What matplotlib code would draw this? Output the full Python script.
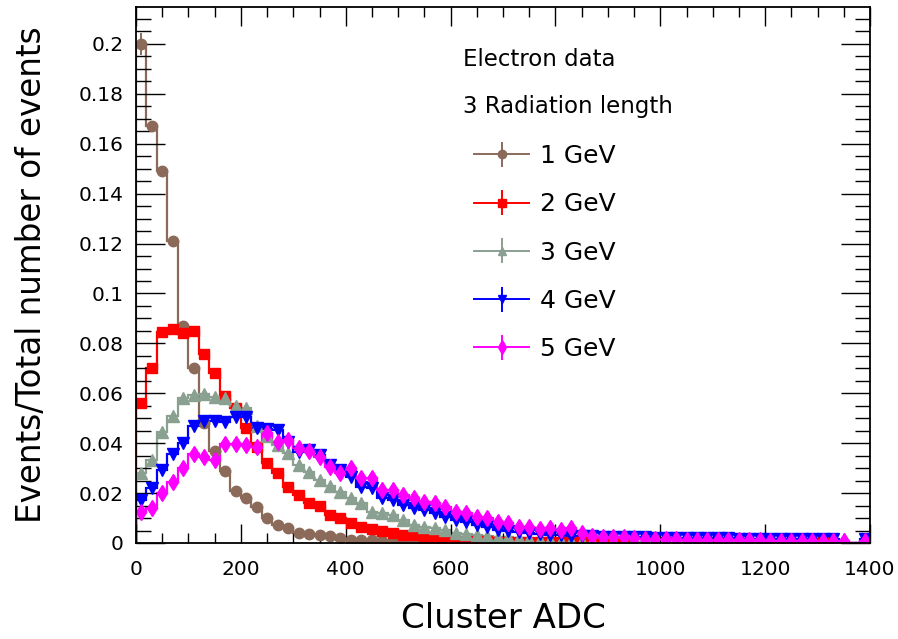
import numpy as np
import matplotlib
matplotlib.use("Agg")
import matplotlib.pyplot as plt

# ---- data (bin width 20 ADC, 0..1400) ----
bin_edges = np.arange(0, 1401, 20)

gev_1 = [0.200, 0.167, 0.149, 0.121, 0.087, 0.070, 0.048, 0.037, 0.029, 0.021,
         0.018, 0.0146, 0.0099, 0.0072, 0.0059, 0.0039, 0.0036, 0.0031, 0.0029, 0.0022,
         0.0014, 0.0012, 0.0011, 0.0010, 0.0009, 0.0008, 0.0007, 0.0006, 0, 0,
         0, 0, 0, 0, 0, 0, 0, 0, 0, 0,
         0, 0, 0, 0, 0, 0, 0, 0, 0, 0,
         0, 0, 0, 0, 0, 0, 0, 0, 0, 0,
         0, 0, 0, 0, 0, 0, 0, 0, 0, 0]

gev_2 = [0.056, 0.070, 0.0847, 0.0858, 0.084, 0.085, 0.0757, 0.068, 0.059, 0.054,
         0.046, 0.0385, 0.032, 0.028, 0.0226, 0.0192, 0.0160, 0.0150, 0.0112, 0.0100,
         0.0081, 0.0065, 0.0056, 0.0048, 0.0040, 0.0032, 0.0032, 0.0020, 0.0016, 0.0015,
         0.0010, 0.0009, 0.0008, 0.0007, 0.0006, 0.0006, 0.0005, 0.0005, 0.0004, 0.0004,
         0.0004, 0.0003, 0.0003, 0.0003, 0.0003, 0.0002, 0.0002, 0, 0, 0,
         0, 0, 0, 0, 0, 0, 0, 0, 0, 0,
         0, 0, 0, 0, 0, 0.0003, 0, 0, 0, 0]

gev_3 = [0.028, 0.0333, 0.0446, 0.0509, 0.0582, 0.0593, 0.0596, 0.0586, 0.0582, 0.055,
         0.054, 0.047, 0.043, 0.0393, 0.036, 0.0313, 0.0286, 0.0253, 0.0228, 0.0205,
         0.0179, 0.0159, 0.0125, 0.0119, 0.0112, 0.0092, 0.0072, 0.0065, 0.0059, 0.0052,
         0.0039, 0.0036, 0.0032, 0.0030, 0.0025, 0.0024, 0.0020, 0.0016, 0.0012, 0.0012,
         0.0010, 0.0009, 0.0008, 0.0008, 0.0007, 0.0007, 0.0006, 0.0006, 0.0005, 0.0005,
         0.0005, 0.0005, 0.0004, 0.0004, 0.0004, 0.0004, 0.0004, 0.0004, 0.0004, 0.0004,
         0.0004, 0.0004, 0.0003, 0.0003, 0.0003, 0.0003, 0.0003, 0, 0, 0.0003]

gev_4 = [0.0172, 0.0219, 0.0293, 0.0357, 0.0400, 0.0469, 0.0490, 0.0490, 0.0486, 0.0506,
         0.0506, 0.0460, 0.0456, 0.0453, 0.0406, 0.0366, 0.0373, 0.0353, 0.0313, 0.0293,
         0.0266, 0.0226, 0.0219, 0.0179, 0.0172, 0.0152, 0.0139, 0.0132, 0.0119, 0.0105,
         0.0092, 0.0085, 0.0072, 0.0065, 0.0052, 0.0049, 0.0045, 0.0039, 0.0036, 0.0032,
         0.0032, 0.0030, 0.0028, 0.0027, 0.0026, 0.0025, 0.0025, 0.0024, 0.0023, 0.0022,
         0.0022, 0.0021, 0.0021, 0.0020, 0.0020, 0.0019, 0.0019, 0.0018, 0.0018, 0.0018,
         0.0017, 0.0017, 0.0016, 0.0016, 0.0016, 0.0015, 0.0015, 0, 0, 0.0015]

gev_5 = [0.0126, 0.0139, 0.0199, 0.0246, 0.0299, 0.0357, 0.0346, 0.0333, 0.0397, 0.0395,
         0.0393, 0.0386, 0.0440, 0.0406, 0.0413, 0.0380, 0.0370, 0.0346, 0.0306, 0.0280,
         0.0300, 0.0260, 0.0260, 0.0212, 0.0212, 0.0192, 0.0179, 0.0166, 0.0159, 0.0146,
         0.0125, 0.0119, 0.0105, 0.0099, 0.0085, 0.0079, 0.0065, 0.0065, 0.0058, 0.0059,
         0.0052, 0.0059, 0.0039, 0.0028, 0.0023, 0.0023, 0.0023, 0.0020, 0.0015, 0.0016,
         0.0016, 0.0015, 0.0012, 0.0013, 0.0013, 0.0014, 0.0012, 0.0011, 0.0011, 0.0011,
         0.0010, 0.0010, 0.0010, 0.0010, 0.0010, 0.0009, 0.0009, 0.0009, 0, 0.0010]

# visible statistical error bars on the first 1 GeV bins
gev_1_err = [0.0045, 0.0015, 0.0014, 0.0013, 0.0010]

series_labels = ["1 GeV", "2 GeV", "3 GeV", "4 GeV", "5 GeV"]
header_lines = ["Electron data", "3 Radiation length"]
x_label = "Cluster ADC"
y_label = "Events/Total number of events"
x_ticks = [0, 200, 400, 600, 800, 1000, 1200, 1400]
y_ticks = [0, 0.02, 0.04, 0.06, 0.08, 0.1, 0.12, 0.14, 0.16, 0.18, 0.2]

# ---- styles ----
colors = ["#8b6a5a", "#ff0000", "#8aa090", "#0000ff", "#ff00ff"]
markers = ["o", "s", "^", "v", "d"]
msizes = [7.5, 7, 8, 8, 8.5]

fig = plt.figure(figsize=(8.98, 6.39), dpi=100)
ax = fig.add_axes([136 / 898, 1 - 543 / 639, 734 / 898, 536 / 639])

centers = 0.5 * (bin_edges[:-1] + bin_edges[1:])
all_series = [gev_1, gev_2, gev_3, gev_4, gev_5]
handles = []
for i, vals in enumerate(all_series):
    v = np.asarray(vals, dtype=float)
    ax.stairs(v, bin_edges, color=colors[i], lw=1.6, baseline=0)
    vm = np.where(v > 0, v, np.nan)
    yerr = np.zeros_like(v)
    if i == 0:
        yerr[:len(gev_1_err)] = gev_1_err
    ax.errorbar(centers, vm, yerr=yerr, fmt=markers[i], color=colors[i],
                ms=msizes[i], mec=colors[i], elinewidth=1.4, capsize=0, ls="none")
    h = ax.errorbar([], [], yerr=[], fmt="-" + markers[i], color=colors[i],
                    ms=msizes[i] * 0.8, lw=1.4, elinewidth=1.4, capsize=0)
    handles.append(h)

ax.set_xlim(0, 1400)
ax.set_ylim(0, 0.2148)
ax.set_xticks(x_ticks)
ax.set_xticks(np.arange(0, 1401, 50), minor=True)
ax.set_yticks(y_ticks)
ax.set_yticks(np.arange(0, 0.2146, 0.005), minor=True)
ax.set_yticklabels([f"{t:g}" for t in y_ticks])
ax.set_xticklabels([str(t) for t in x_ticks])

ax.tick_params(axis="both", which="both", direction="in", top=True, right=True,
               colors="black", labelsize=14.5)
ax.tick_params(axis="y", which="major", length=21, width=1.0, pad=9)
ax.tick_params(axis="y", which="minor", length=11, width=1.0)
ax.tick_params(axis="x", which="major", length=14, width=1.0, pad=12)
ax.tick_params(axis="x", which="minor", length=7.5, width=1.0)
for s in ax.spines.values():
    s.set_linewidth(1.3)

ax.set_xlabel(x_label, fontsize=24.5)
ax.xaxis.set_label_coords(0.5, -0.11)
ax.set_ylabel(y_label, fontsize=23.5)
ax.yaxis.set_label_coords(-0.12, 0.5)

ax.text((463 - 136) / 734, (543 - 59) / 536, header_lines[0], transform=ax.transAxes,
        fontsize=16.5, ha="left", va="center")
ax.text((463 - 136) / 734, (543 - 106) / 536, header_lines[1], transform=ax.transAxes,
        fontsize=16.5, ha="left", va="center")

leg = ax.legend(handles, series_labels, loc="upper left",
                bbox_to_anchor=((474 - 136) / 734, (543 - 144) / 536),
                frameon=False, fontsize=18, borderpad=0, borderaxespad=0,
                labelspacing=0.97, handlelength=2.2, handletextpad=0.45,
                numpoints=1)

fig.savefig("out.png", dpi=100, facecolor="white")
